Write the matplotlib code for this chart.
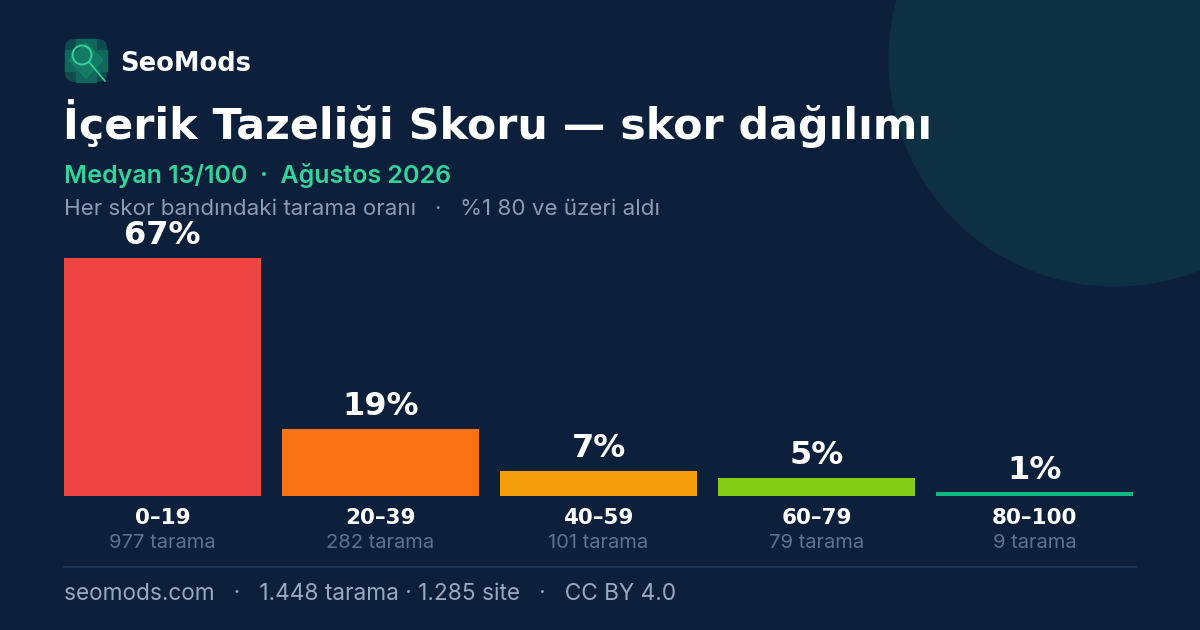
import matplotlib
matplotlib.use("Agg")
import matplotlib.pyplot as plt
from matplotlib.patches import Circle, FancyBboxPatch, Rectangle, Polygon

# ---- data ----
bands = ["0–19", "20–39", "40–59", "60–79", "80–100"]
percents = [67, 19, 7, 5, 1]
scans = [977, 282, 101, 79, 9]
bar_colors = ["#ef4444", "#f97316", "#f59e0b", "#84cc16", "#10b981"]

title = "İçerik Tazeliği Skoru — skor dağılımı"
subtitle_green = "Medyan 13/100  ·  Ağustos 2026"
subtitle_gray = "Her skor bandındaki tarama oranı   ·   %1 80 ve üzeri aldı"
footer = "seomods.com   ·   1.448 tarama · 1.285 site   ·   CC BY 4.0"
brand = "SeoMods"

BG = "#0c1f3b"
FONT = ["Inter", "DejaVu Sans"]
HEAD = ["DejaVu Sans"]
plt.rcParams["font.family"] = FONT

W, H = 1200, 630
fig = plt.figure(figsize=(W / 100, H / 100), dpi=100, facecolor=BG)

# background / decoration axes in pixel coords
bg = fig.add_axes([0, 0, 1, 1])
bg.set_xlim(0, W)
bg.set_ylim(H, 0)
bg.axis("off")
bg.set_facecolor(BG)
bg.add_patch(Rectangle((0, 0), W, H, color=BG, zorder=0))
bg.add_patch(Circle((1115, 60), 226, color="#0d3042", zorder=1))

# logo
bg.add_patch(FancyBboxPatch((65, 39), 42, 43, boxstyle="round,pad=0,rounding_size=9",
                            fc="#0f4b4d", ec="none", zorder=2))
bg.add_patch(Rectangle((76, 39), 20, 43, color="#12675c", zorder=3))
bg.add_patch(Rectangle((65, 50), 42, 21, color="#12675c", zorder=3))
bg.add_patch(Polygon([(86, 43), (103, 60), (86, 78), (69, 60)], color="#148a6b", alpha=0.6, zorder=4))
bg.add_patch(Circle((82, 55), 9.5, fill=False, ec="#34d399", lw=1.4, zorder=5))
bg.plot([89, 105], [62, 81], color="#34d399", lw=1.2, zorder=5)

bg.text(120, 64, brand, color="white", fontsize=18.5, fontweight="bold", family=HEAD,
        va="center", ha="left", zorder=6)

bg.text(63, 139, title, color="white", fontsize=30.8, fontweight="bold", family=HEAD,
        va="baseline", ha="left", zorder=6)
bg.text(64, 183, subtitle_green, color="#34d399", fontsize=18, fontweight="semibold",
        va="baseline", ha="left", zorder=6)
bg.text(64, 215, subtitle_gray, color="#8d9bb3", fontsize=16.1,
        va="baseline", ha="left", zorder=6)

# footer
bg.plot([64, 1136], [567, 567], color="#1d3658", lw=1.2, zorder=6)
bg.text(64, 600, footer, color="#9aa8c0", fontsize=16.3, va="baseline", ha="left", zorder=6)

# bar axes
x0, x1 = 64, 1133
base, top = 496, 258
ax = fig.add_axes([x0 / W, (H - base) / H, (x1 - x0) / W, (base - top) / H])
ax.set_facecolor("none")
w = 197 / 218
xs = list(range(len(bands)))
ax.bar(xs, percents, width=w, color=bar_colors, zorder=3)
ax.set_xlim(-w / 2, xs[-1] + w / 2)
ax.set_ylim(0, max(percents))
ax.axis("off")

for x, p, b, n in zip(xs, percents, bands, scans):
    ax.annotate(f"{p}%", (x, p), xytext=(0, 10), textcoords="offset points",
                ha="center", va="baseline", color="white", fontsize=23, fontweight="bold",
                family=HEAD, annotation_clip=False)
    ax.annotate(b, (x, 0), xytext=(0, -16), textcoords="offset points",
                ha="center", va="center", color="white", fontsize=15.5, fontweight="bold",
                family=HEAD, annotation_clip=False)
    ax.annotate(f"{n} tarama", (x, 0), xytext=(0, -34), textcoords="offset points",
                ha="center", va="center", color="#5f7290", fontsize=14.5,
                annotation_clip=False)

fig.savefig("out.png", dpi=100, facecolor=BG)
